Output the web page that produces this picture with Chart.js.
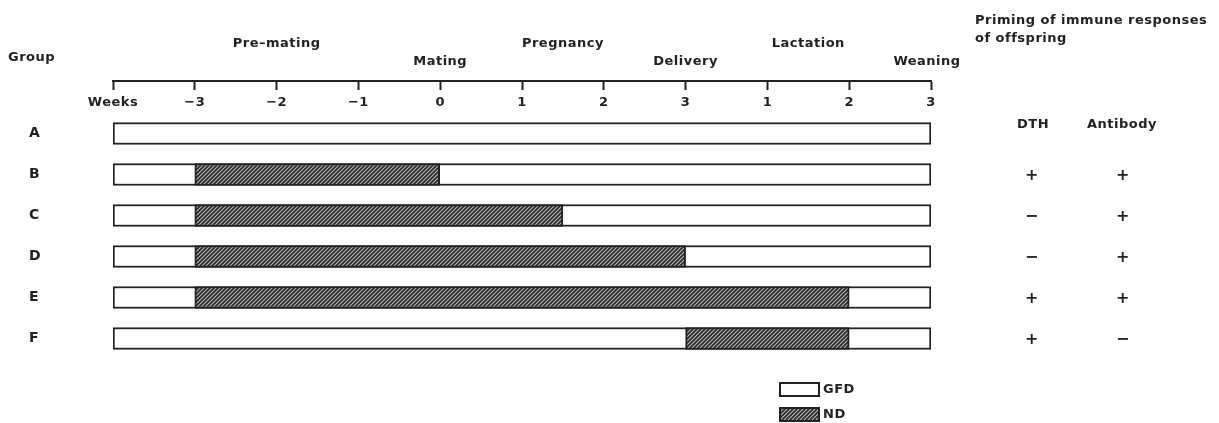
<!DOCTYPE html>
<html>
<head>
<meta charset="utf-8">
<script src="https://cdn.jsdelivr.net/npm/chart.js@4.4.0/dist/chart.umd.min.js"></script>
<style>
html,body{margin:0;padding:0;background:#fff;}
#wrap{width:1219px;height:423px;position:relative;}
</style>
</head>
<body>
<div id="wrap"><canvas id="c" width="1219" height="423"></canvas></div>
<script>
// ---- data ----
const groups = ['A','B','C','D','E','F'];
const gfdPeriod = [[-4,6],[-4,6],[-4,6],[-4,6],[-4,6],[-4,6]];
const ndPeriod = [null,[-3,0],[-3,1.5],[-3,3],[-3,5],[3,5]];
const weekTicks = [-4,-3,-2,-1,0,1,2,3,4,5,6];
const weekTickLabels = ['Weeks','\u22123','\u22122','\u22121','0','1','2','3','1','2','3'];
const phaseNames = ['Pre\u2013mating','Pregnancy','Lactation'];
const phaseWeeks = [-2,1.5,4.5];
const eventNames = ['Mating','Delivery','Weaning'];
const eventWeeks = [0,3,6];
const responseHeaders = ['DTH','Antibody'];
const dthResponse = ['','+','\u2212','\u2212','+','+'];
const antibodyResponse = ['','+','+','+','+','\u2212'];
const legendLabels = ['GFD','ND'];

// ---- style ----
const INK = '#222';
const FONT = '"DejaVu Sans", sans-serif';
const LS = '0.5px';

function makeHatch(ctx){
  const c = document.createElement('canvas');
  c.width = 4; c.height = 4;
  const g = c.getContext('2d');
  g.fillStyle = '#2a2a2a'; g.fillRect(0,0,4,4);
  g.strokeStyle = '#b8b8b8'; g.lineWidth = 1.1;
  g.beginPath();
  g.moveTo(-1,5); g.lineTo(5,-1);
  g.moveTo(-3,3); g.lineTo(3,-3);
  g.moveTo(1,7); g.lineTo(7,1);
  g.stroke();
  return ctx.createPattern(c,'repeat');
}

const canvas = document.getElementById('c');
const ctx0 = canvas.getContext('2d');
const hatch = makeHatch(ctx0);

const spacingPlugin = {
  id: 'spacing',
  beforeUpdate(chart){ try{ chart.ctx.letterSpacing = LS; }catch(e){} },
  beforeDraw(chart){ try{ chart.ctx.letterSpacing = LS; }catch(e){} }
};

const annotationPlugin = {
  id: 'annot',
  afterDraw(chart){
    const ctx = chart.ctx;
    const xs = chart.scales.x, ys = chart.scales.y;
    ctx.save();
    try{ ctx.letterSpacing = LS; }catch(e){}
    ctx.fillStyle = INK;
    ctx.textBaseline = 'middle';
    ctx.font = 'bold 13px ' + FONT;
    // Group header
    ctx.textAlign = 'left';
    ctx.fillText('Group', 8, 58);
    // phases and events
    ctx.textAlign = 'center';
    phaseNames.forEach((t,i)=> ctx.fillText(t, xs.getPixelForValue(phaseWeeks[i]), 44));
    eventNames.forEach((t,i)=> ctx.fillText(t, xs.getPixelForValue(eventWeeks[i]) - (i===2?4:0), 62));
    // right headers
    ctx.textAlign = 'left';
    ctx.fillText('Priming of immune responses', 975, 21);
    ctx.fillText('of offspring', 975, 39);
    ctx.textAlign = 'center';
    ctx.fillText(responseHeaders[0], 1033, 125);
    ctx.fillText(responseHeaders[1], 1122, 125);
    ctx.font = 'bold 16px ' + FONT;
    groups.forEach((g,i)=>{
      const y = ys.getPixelForValue(i);
      if (dthResponse[i]) ctx.fillText(dthResponse[i], 1032, y+1);
      if (antibodyResponse[i]) ctx.fillText(antibodyResponse[i], 1123, y+1);
    });
    // legend
    const boxes = [[779,382],[779,407]];
    ctx.font = 'bold 13px ' + FONT;
    ctx.textAlign = 'left';
    legendLabels.forEach((t,i)=>{
      const [bx,by] = boxes[i];
      ctx.fillStyle = i===0 ? '#fff' : hatch;
      ctx.fillRect(bx,by,41,15);
      ctx.lineWidth = 2; ctx.strokeStyle = INK;
      ctx.strokeRect(bx+1,by+1,39,13);
      ctx.fillStyle = INK;
      ctx.fillText(t, 823, by+8);
    });
    ctx.restore();
  }
};

new Chart(canvas, {
  type: 'bar',
  data: {
    labels: groups,
    datasets: [
      { label: legendLabels[0], data: gfdPeriod, backgroundColor: '#fff', borderColor: INK, borderWidth: 2, borderSkipped: false, grouped: false, barThickness: 22, order: 2 },
      { label: legendLabels[1], data: ndPeriod, backgroundColor: hatch, borderColor: INK, borderWidth: 2, borderSkipped: false, grouped: false, barThickness: 22, order: 1 }
    ]
  },
  options: {
    indexAxis: 'y',
    responsive: false,
    animation: false,
    layout: { padding: { top: 113, bottom: 64, left: 29, right: 288 } },
    plugins: { legend: { display: false }, tooltip: { enabled: false } },
    scales: {
      x: {
        type: 'linear', axis: 'x', min: -4, max: 6,
        position: { y: -1.28 },
        afterBuildTicks: s => { s.ticks = weekTicks.map(v => ({ value: v })); },
        ticks: {
          autoSkip: false, maxRotation: 0, padding: 6, color: INK,
          font: { family: FONT, size: 13, weight: 'bold' },
          callback: v => weekTickLabels[weekTicks.indexOf(v)]
        },
        grid: { drawOnChartArea: false, drawTicks: true, tickLength: 8, tickWidth: 2, tickColor: INK },
        border: { display: true, color: INK, width: 2 }
      },
      y: {
        type: 'category', offset: true,
        grid: { display: false, drawTicks: false },
        border: { display: false },
        afterFit: s => { s.width = 84; },
        ticks: { padding: 0, crossAlign: 'far', color: INK, font: { family: FONT, size: 14, weight: 'bold' } }
      }
    }
  },
  plugins: [spacingPlugin, annotationPlugin]
});
</script>
</body>
</html>
